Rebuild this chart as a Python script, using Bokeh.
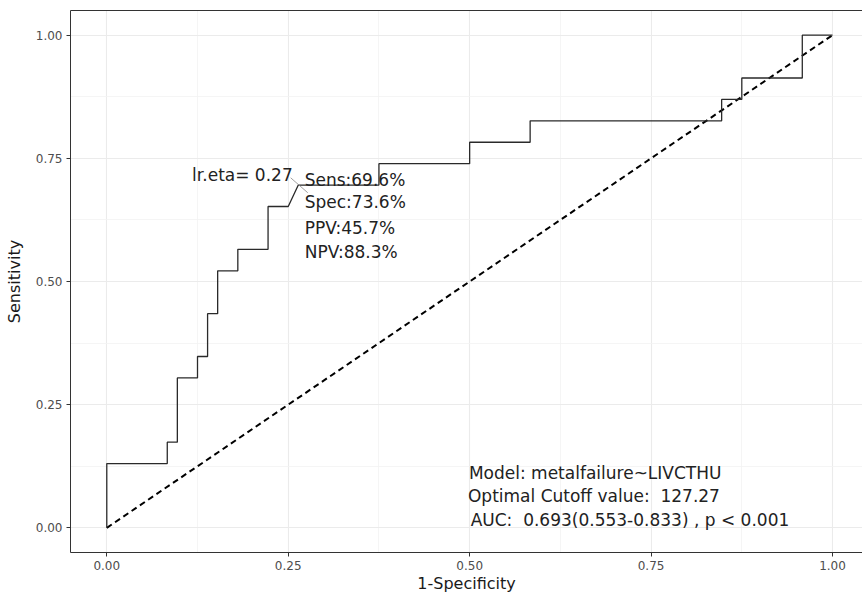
from bokeh.plotting import figure
from bokeh.models import Range1d, FixedTicker, LinearAxis, Label
from bokeh.embed import file_html
from bokeh.resources import INLINE

# ---- data ----
n_neg = 72
n_pos = 23
# ROC vertices as counts (false positives, true positives)
fp_counts = [0, 0, 6, 6, 7, 7, 9, 9, 10, 10, 11, 11, 13, 13, 16, 16, 18, 19, 27, 27,
             36, 36, 42, 42, 61, 61, 63, 63, 69, 69, 72]
tp_counts = [0, 3, 3, 4, 4, 7, 7, 8, 8, 10, 10, 12, 12, 13, 13, 15, 15, 16, 16, 17,
             17, 18, 18, 19, 19, 20, 20, 21, 21, 23, 23]
fpr = [c / n_neg for c in fp_counts]
tpr = [c / n_pos for c in tp_counts]
ref_x = [0.0, 1.0]
ref_y = [0.0, 1.0]
cut_fpr = 19 / 72
cut_tpr = 16 / 23
tick_values = [0.0, 0.25, 0.5, 0.75, 1.0]
minor_values = [0.125, 0.375, 0.625, 0.875]
tick_labels = ["0.00", "0.25", "0.50", "0.75", "1.00"]
cut_text = "lr.eta= 0.27"
metric_texts = ["Sens:69.6%", "Spec:73.6%", "PPV:45.7%", "NPV:88.3%"]
info_texts = ["Model: metalfailure~LIVCTHU",
              "Optimal Cutoff value:\u00a0 127.27",
              "AUC:\u00a0 0.693(0.553-0.833) , p < 0.001"]

FONT = "DejaVu Sans"
TXT = "#222222"

p = figure(width=862, height=595, output_backend="svg", toolbar_location=None,
           x_range=Range1d(-0.05, 1.0413), y_range=Range1d(-0.05, 1.05),
           min_border_left=70, min_border_right=0, min_border_top=10, min_border_bottom=42)
p.outline_line_color = None
p.background_fill_color = "white"
p.border_fill_color = "white"

for ax in (p.xaxis[0], p.yaxis[0]):
    ax.ticker = FixedTicker(ticks=tick_values, minor_ticks=minor_values)
    ax.major_label_overrides = {v: l for v, l in zip(tick_values, tick_labels)}
    ax.axis_line_color = "#333333"
    ax.axis_line_width = 1
    ax.major_tick_line_color = "#333333"
    ax.major_tick_out = 4
    ax.major_tick_in = 0
    ax.minor_tick_line_color = None
    ax.major_label_text_font = FONT
    ax.major_label_text_font_size = "12px"
    ax.major_label_text_color = "#4d4d4d"
    ax.major_label_standoff = 4
    ax.axis_label_text_font = FONT
    ax.axis_label_text_font_size = "16px"
    ax.axis_label_text_font_style = "normal"
    ax.axis_label_text_color = "#1a1a1a"

p.xaxis.axis_label = "1-Specificity"
p.yaxis.axis_label = "Sensitivity"
p.xaxis.axis_label_standoff = 1
p.yaxis.axis_label_standoff = 9

top = LinearAxis(ticker=FixedTicker(ticks=[]), axis_line_color="#333333",
                 major_tick_line_color=None, minor_tick_line_color=None,
                 major_label_text_color=None)
p.add_layout(top, "above")

for g in (p.xgrid[0], p.ygrid[0]):
    g.ticker = FixedTicker(ticks=tick_values, minor_ticks=minor_values)
    g.grid_line_color = "#ebebeb"
    g.grid_line_width = 1.1
    g.minor_grid_line_color = "#f2f2f2"
    g.minor_grid_line_width = 0.8

p.line(ref_x, ref_y, line_color="black", line_width=2, line_dash="6 4")
p.line(fpr, tpr, line_color="#2a2a2a", line_width=1.3)

# repel segment through the cutoff point
p.segment(x0=[cut_fpr - 0.0105], y0=[cut_tpr + 0.0148],
          x1=[cut_fpr + 0.0130], y1=[cut_tpr - 0.0155],
          line_color="#888888", line_width=0.8)

p.add_layout(Label(x=0.2562, y=0.7166, text=cut_text, text_font=FONT,
                   text_font_size="17px", text_color=TXT,
                   text_align="right", text_baseline="middle"))
for t, yy in zip(metric_texts, [0.7065, 0.661, 0.6087, 0.5597]):
    p.add_layout(Label(x=0.2727, y=yy, text=t, text_font=FONT,
                       text_font_size="17px", text_color=TXT,
                       text_align="left", text_baseline="middle"))
for t, xx, yy in zip(info_texts, [0.499, 0.4977, 0.5014], [0.1113, 0.0654, 0.0158]):
    p.add_layout(Label(x=xx, y=yy, text=t, text_font=FONT,
                       text_font_size="17px", text_color=TXT,
                       text_align="left", text_baseline="middle"))

open("out.html", "w").write(file_html(p, INLINE))
